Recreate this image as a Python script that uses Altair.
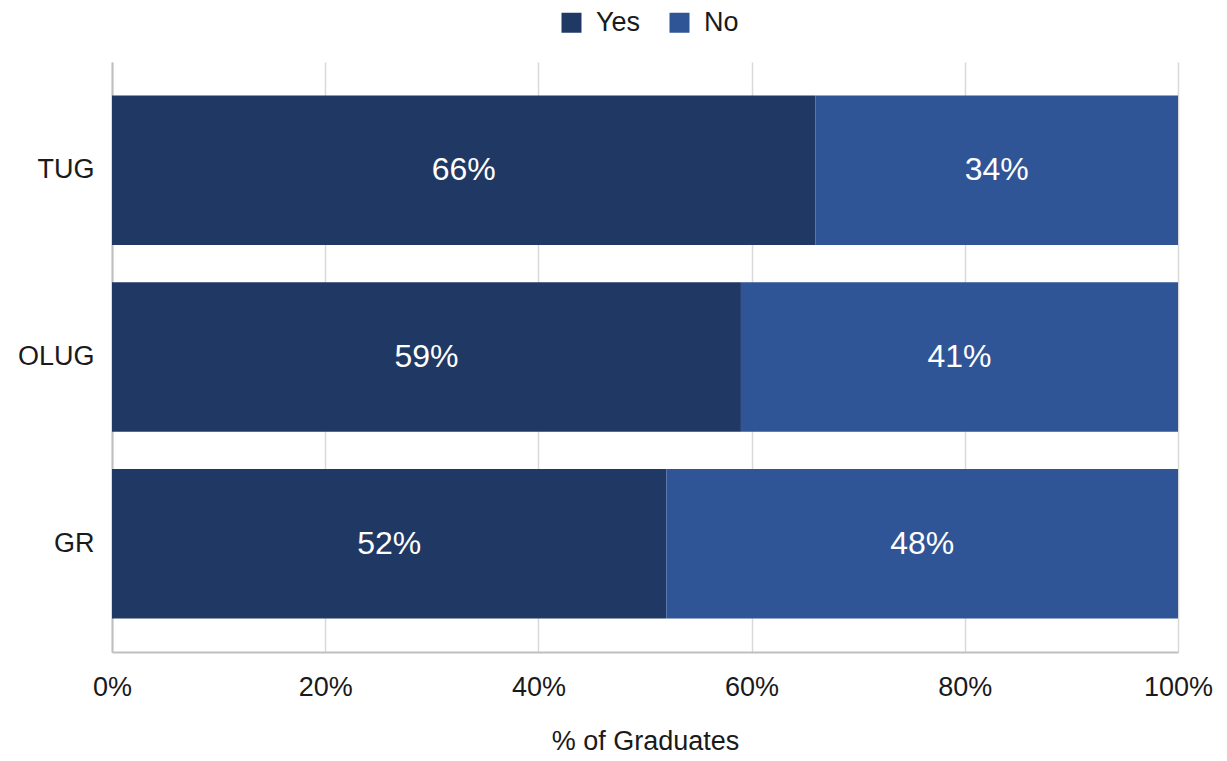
import altair as alt
import pandas as pd

categories = ["TUG", "OLUG", "GR"]
yes_values = [0.66, 0.59, 0.52]
no_values = [0.34, 0.41, 0.48]
responses = ["Yes", "No"]
colors = ["#203864", "#2f5597"]

rows = []
for c, y, n in zip(categories, yes_values, no_values):
    rows.append({"group": c, "response": "Yes", "value": y, "ord": 0})
    rows.append({"group": c, "response": "No", "value": n, "ord": 1})
df = pd.DataFrame(rows)

font = "Liberation Sans"
txt = "#1a1a1a"

base = alt.Chart(df).transform_stack(
    stack="value", groupby=["group"], as_=["start", "end"],
    sort=[alt.SortField("ord", order="ascending")]
).transform_calculate(mid="(datum.start + datum.end) / 2")

ysc = alt.Y("group:N", sort=categories, title=None,
            scale=alt.Scale(paddingInner=0.2, paddingOuter=0.18),
            axis=alt.Axis(labelFontSize=27, labelColor=txt, labelFont=font,
                          labelPadding=18, ticks=False, domainColor="#bfbfbf",
                          domainWidth=2))

bars = base.mark_bar().encode(
    x=alt.X("start:Q", scale=alt.Scale(domain=[0, 1], nice=False),
            title="% of Graduates",
            axis=alt.Axis(format=".0%", values=[0, 0.2, 0.4, 0.6, 0.8, 1.0],
                          labelFontSize=27, labelColor=txt, labelFont=font,
                          labelFlush=False,
                          titleFontSize=27, titleFont=font, titleFontWeight="normal",
                          titleColor=txt, titlePadding=28, labelPadding=22,
                          ticks=False, grid=True, gridColor="#d9d9d9", gridWidth=1.5,
                          domainColor="#bfbfbf", domainWidth=2)),
    x2="end:Q",
    y=ysc,
    color=alt.Color("response:N", sort=responses,
                    scale=alt.Scale(domain=responses, range=colors),
                    legend=alt.Legend(title=None, orient="none", direction="horizontal",
                                      legendX=446, legendY=-53,
                                      symbolType="square", symbolSize=400,
                                      symbolStrokeWidth=0,
                                      labelFontSize=27, labelFont=font,
                                      labelColor=txt, columnPadding=25,
                                      labelOffset=11)),
)

labels = base.mark_text(color="white", fontSize=32, font=font).encode(
    x=alt.X("mid:Q"),
    y=alt.Y("group:N", sort=categories),
    text=alt.Text("value:Q", format=".0%"),
)

chart = (bars + labels).properties(
    width=1066, height=590,
    autosize=alt.AutoSizeParams(type="none"),
    padding={"left": 104, "top": 54, "right": 40, "bottom": 106},
).configure_view(stroke=None)

chart.save("out.html", embed_options={"renderer": "svg", "actions": False})
